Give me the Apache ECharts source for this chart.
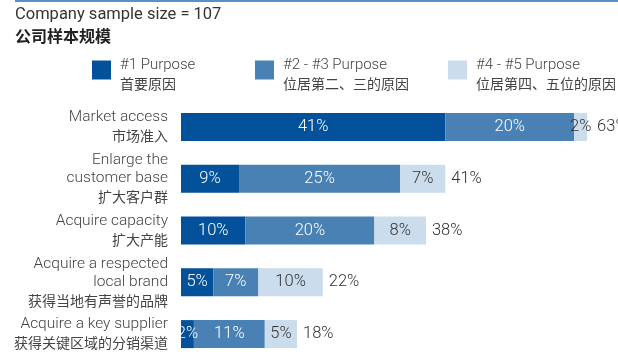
<!DOCTYPE html>
<html>
<head>
<meta charset="utf-8">
<script src="https://cdn.jsdelivr.net/npm/echarts@6/dist/echarts.min.js"></script>
<style>
  html, body { margin: 0; padding: 0; background: #ffffff; }
  #chart { width: 618px; height: 360px; }
</style>
</head>
<body>
<div id="chart"></div>
<script>
// Purposes of acquisitions, share of companies (%)
const categoriesEn = [
  'Market access',
  'Enlarge the\ncustomer base',
  'Acquire capacity',
  'Acquire a respected\nlocal brand',
  'Acquire a key supplier'
];
const categoriesZh = ['市场准入', '扩大客户群', '扩大产能', '获得当地有声誉的品牌', '获得关键区域的分销渠道'];

const seriesNames = ['#1 Purpose', '#2 - #3 Purpose', '#4 - #5 Purpose'];
const seriesNamesZh = ['首要原因', '位居第二、三的原因', '位居第四、五位的原因'];

const purpose1 = [41, 9, 10, 5, 2];
const purpose23 = [20, 25, 20, 7, 11];
const purpose45 = [2, 7, 8, 10, 5];
const totals = [63, 41, 38, 22, 18];

const colors = ['#03519a', '#4a81b5', '#cbdcec'];
const FONT = 'Roboto, "Noto Sans CJK SC", sans-serif';
const FONT_ZH = '"Noto Sans CJK SC", sans-serif';

const chart = echarts.init(document.getElementById('chart'));

function catLabel(value, idx) {
  const lines = categoriesEn[idx].split('\n').map(l => '{en|' + l + '}');
  return lines.join('\n') + '\n{zh|' + categoriesZh[idx] + '}';
}

const legendLefts = [92, 255, 448];
const legends = seriesNames.map((name, i) => ({
  data: [name],
  left: legendLefts[i],
  top: 58,
  padding: 0,
  icon: 'rect',
  itemWidth: 19,
  itemHeight: 19,
  selectedMode: false,
  formatter: n => '{en|' + n + '}\n{zh|' + seriesNamesZh[i] + '}',
  textStyle: {
    padding: [9, 0, 0, 4],
    rich: {
      en: { fontFamily: FONT, fontSize: 15, color: '#444', lineHeight: 18, fontWeight: 300 },
      zh: { fontFamily: FONT_ZH, fontSize: 14, color: '#444', lineHeight: 18 }
    }
  }
}));

function valueLabel(color) {
  return {
    show: true,
    position: 'inside',
    fontFamily: FONT,
    fontSize: 16.5,
    fontWeight: 300,
    color: color,
    formatter: p => p.value + '%'
  };
}

// Totals sit just past the end of each stack; the first row needs extra room
// because its short last segment carries an overflowing label.
const totalData = totals.map((t, i) => (i === 0 ? { value: 0, label: { distance: 10 } } : 0));

const option = {
  animation: false,
  graphic: [
    { type: 'line', shape: { x1: 15, y1: 1, x2: 618, y2: 1 }, style: { stroke: '#5b8fc7', lineWidth: 2 } },
    { type: 'text', left: 15, top: 7, style: { text: 'Company sample size = 107', font: '400 16.5px ' + FONT, fill: '#333' } },
    { type: 'text', left: 15, top: 28, style: { text: '公司样本规模', font: 'bold 16px ' + FONT_ZH, fill: '#222' } }
  ],
  legend: legends,
  grid: { left: 181, top: 101, width: 419, height: 272, containLabel: false },
  xAxis: {
    type: 'value',
    min: 0,
    max: 65,
    show: false
  },
  yAxis: {
    type: 'category',
    inverse: true,
    data: categoriesEn,
    axisLine: { show: false },
    axisTick: { show: false },
    splitLine: { show: false },
    axisLabel: {
      margin: 13,
      align: 'right',
      formatter: catLabel,
      rich: {
        en: { fontFamily: FONT, fontSize: 15.5, color: '#444', lineHeight: 18, fontWeight: 300, align: 'right' },
        zh: { fontFamily: FONT_ZH, fontSize: 14, color: '#444', lineHeight: 19, align: 'right' }
      }
    }
  },
  series: [
    { name: seriesNames[0], type: 'bar', stack: 'all', barWidth: 28, data: purpose1, itemStyle: { color: colors[0] }, label: valueLabel('#ffffff') },
    { name: seriesNames[1], type: 'bar', stack: 'all', barWidth: 28, data: purpose23, itemStyle: { color: colors[1] }, label: valueLabel('#ffffff') },
    { name: seriesNames[2], type: 'bar', stack: 'all', barWidth: 28, data: purpose45, itemStyle: { color: colors[2] }, label: valueLabel('#333333') },
    {
      name: 'Total', type: 'bar', stack: 'all', barWidth: 28,
      data: totalData,
      itemStyle: { color: 'rgba(0,0,0,0)' },
      label: {
        show: true, position: 'right', distance: 6,
        fontFamily: FONT, fontSize: 16.5, fontWeight: 300, color: '#333',
        formatter: p => totals[p.dataIndex] + '%'
      }
    }
  ]
};

chart.setOption(option);
</script>
</body>
</html>
